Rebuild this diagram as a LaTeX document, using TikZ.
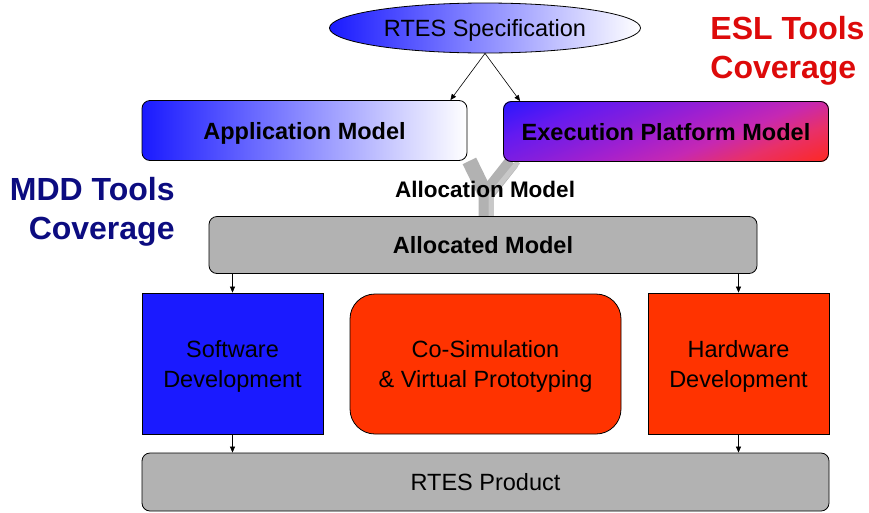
\documentclass[tikz,border=0pt]{standalone}
\usepackage{fontspec}
\setmainfont{Liberation Sans}
\usetikzlibrary{shapes.geometric,arrows.meta,backgrounds}

\definecolor{specblue}{RGB}{26,26,255}
\definecolor{swblue}{RGB}{26,26,255}
\definecolor{hwred}{RGB}{255,51,0}
\definecolor{epmblue}{RGB}{40,22,255}
\definecolor{epmindigo}{RGB}{100,26,240}
\definecolor{epmviolet}{RGB}{130,30,222}
\definecolor{epmpurple}{RGB}{165,32,205}
\definecolor{epmmagenta}{RGB}{198,40,178}
\definecolor{epmpink}{RGB}{232,48,105}
\definecolor{epmred}{RGB}{255,40,30}
\definecolor{boxgrey}{RGB}{178,178,178}
\definecolor{forkgrey}{RGB}{200,200,200}
\definecolor{mddnavy}{RGB}{12,12,128}
\definecolor{eslred}{RGB}{221,10,10}

\pgfdeclareverticalshading{epmshade}{100bp}{color(0bp)=(epmred); color(37.5bp)=(epmred);
    color(42.5bp)=(epmpink); color(46.25bp)=(epmmagenta); color(50bp)=(epmpurple);
    color(53.75bp)=(epmviolet); color(57.5bp)=(epmindigo); color(62.5bp)=(epmblue);
    color(100bp)=(epmblue)}

\begin{document}
\begin{tikzpicture}[x=1pt, y=-1pt,
        line width=0.8pt,
        model/.style = {draw, rounded corners=8pt, inner sep=0pt, text depth=0pt,
            minimum width=325pt, minimum height=60pt,
            font=\fontsize{23.5}{28}\selectfont\bfseries},
        grey box/.style = {draw, fill=boxgrey, rounded corners=8pt, inner sep=0pt},
        dev/.style = {draw, inner sep=0pt, align=center, text depth=0pt,
            minimum height=141pt,
            font=\fontsize{23.5}{30}\selectfont},
        coverage/.style = {inner sep=0pt,
            font=\fontsize{32}{39}\selectfont\bfseries},
        flow/.style = {-{Triangle[length=6pt,width=5pt]}, line width=0.6pt},
        alloc line/.style = {line width=15pt, draw=boxgrey}]

    \useasboundingbox (0,0) rectangle (869,512);

    % RTES specification
    \node[draw, ellipse, inner sep=0pt, text depth=0pt, minimum width=311pt, minimum height=50pt,
        left color=specblue, right color=white,
        font=\fontsize{23.5}{28}\selectfont] (spec) at (485,28) {RTES Specification};

    % Models
    \node[model, left color=specblue, right color=white] (appl) at (304.5,130.5) {Application Model};
    \node[model] (epm) at (666,131.5) {Execution Platform Model};

    \draw[flow] (spec.south) -- ([xshift=-17pt]appl.north east);
    \draw[flow] (spec.south) -- ([xshift=17pt]epm.north west);

    % Allocated model
    \node[grey box, minimum width=548pt, minimum height=57pt,
        font=\fontsize{23.5}{28}\selectfont\bfseries] (alloc) at (483,245) {Allocated Model};

    % Allocation fork and platform shading
    \coordinate (fork) at (486,195);
    \begin{scope}[on background layer]
        \draw[alloc line] ([xshift=2pt]appl.south east) -- (fork) -- (alloc.north -| fork);
        \draw[alloc line] ([xshift=9pt]epm.south west) -- (fork);
        \draw[line width=5pt, draw=forkgrey] ([xshift=15pt]epm.south west) -- ([xshift=5pt]fork)
            -- ([xshift=5pt]alloc.north -| fork);
        \clip[rounded corners=8pt] (epm.north west) rectangle (epm.south east);
        \begin{scope}[transform canvas={rotate around={22:(epm.center)}}]
            \shade[shading=epmshade] ([shift={(-180,-180)}]epm.center) rectangle ([shift={(180,180)}]epm.center);
        \end{scope}
    \end{scope}
    \node[font=\fontsize{22.5}{28}\selectfont\bfseries] (allocl) at (485,189) {Allocation Model};

    % Development
    \node[dev, fill=swblue, minimum width=181pt] (sw) at (232.5,363.5) {Software\\Development};
    \node[dev, fill=hwred, rounded corners=25pt, minimum width=271pt, minimum height=140pt]
        (cosim) at (485.5,364) {Co-Simulation\\\& Virtual Prototyping};
    \node[dev, fill=hwred, minimum width=181pt] (hw) at (738.5,363.5) {Hardware\\Development};

    % Product
    \node[grey box, minimum width=687pt, minimum height=58pt,
        font=\fontsize{23.5}{28}\selectfont] (prod) at (485.5,482) {RTES Product};

    \draw[flow] (alloc.south -| sw) -- (sw.north);
    \draw[flow] (alloc.south -| hw) -- (hw.north);
    \draw[flow] (sw.south) -- (prod.north -| sw);
    \draw[flow] (hw.south) -- (prod.north -| hw);

    % Coverage labels
    \node[coverage, text=mddnavy, align=right, anchor=north east] (mdd) at (175,177) {MDD Tools\\Coverage};
    \node[coverage, text=eslred, align=left, anchor=north west] (esl) at (710,16) {ESL Tools\\Coverage};

\end{tikzpicture}
\end{document}
